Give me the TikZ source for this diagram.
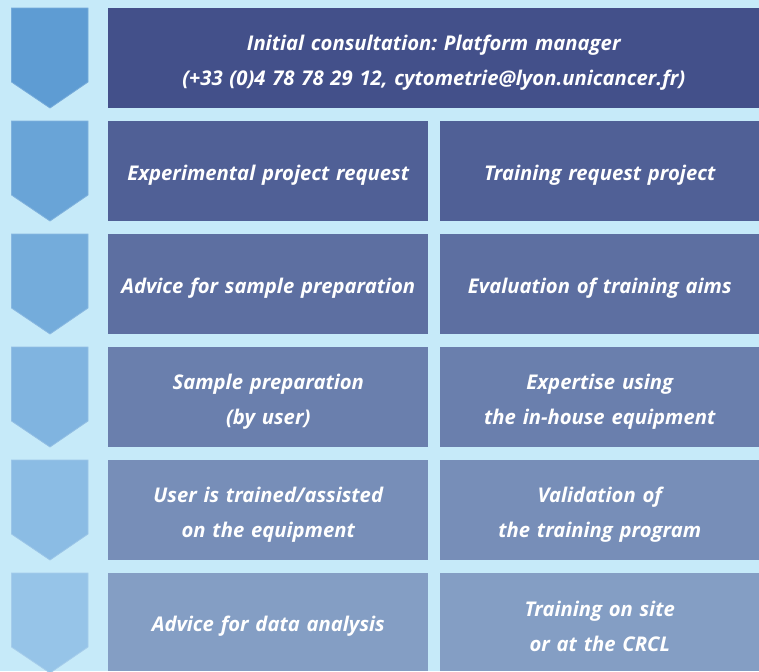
\documentclass[tikz,border=0pt]{standalone}
\usepackage{fontspec}
\setmainfont{Open Sans}
\frenchspacing
\usetikzlibrary{positioning}

\definecolor{bgblue}{HTML}{C6EAF9}
\definecolor{boxdark}{HTML}{43508A}
\definecolor{boxlight}{HTML}{849EC4}
\definecolor{chevdark}{HTML}{5E9CD3}
\definecolor{chevlight}{HTML}{96C4E8}

\tikzset{
  stepbox/.style={anchor=north west, inner sep=0pt, text=white, align=center,
    font=\fontsize{15.2}{26}\selectfont\bfseries\itshape, minimum height=75pt,
    execute at begin node={\rule{0pt}{18pt}}},
  halfbox/.style={stepbox, minimum width=240pt, text width=230pt},
}

\begin{document}
\begin{tikzpicture}[x=0.75pt,y=0.75pt,yscale=-1,xscale=1]
%set diagram size: 759 x 671
\clip (0,0) rectangle (759,671);
\fill[bgblue] (0,0) rectangle (759,671);

%Chevrons, one per row
\foreach \i in {0,...,5}{
  \pgfmathtruncatemacro{\pct}{\i*20}
  \pgfmathsetmacro{\top}{8+113*\i}
  \draw[draw=chevlight!\pct!chevdark!85!white, fill=chevlight!\pct!chevdark, line width=0.6pt]
    (11.5,\top) -- (88,\top) -- (88,\top+74) -- (50,\top+100) -- (11.5,\top+74) -- cycle ;
}

% Text Node
\node[stepbox, fill=boxdark, minimum width=488.25pt, text width=470pt] (consult) at (108,8)
  {Initial consultation: Platform manager\\(+33 (0)4 78 78 29 12, cytometrie@lyon.unicancer.fr)};

% Text Node
\node[halfbox, fill=boxlight!20!boxdark] (exprequest) at (108,121) {Experimental project request};
% Text Node
\node[halfbox, fill=boxlight!20!boxdark, minimum width=239.25pt] (trainrequest) at (440,121) {Training request project};

% Text Node
\node[halfbox, fill=boxlight!40!boxdark] (advsample) at (108,234) {Advice for sample preparation};
% Text Node
\node[halfbox, fill=boxlight!40!boxdark, minimum width=239.25pt] (evalaims) at (440,234) {Evaluation of training aims};

% Text Node
\node[halfbox, fill=boxlight!60!boxdark] (sampleprep) at (108,347) {Sample preparation\\(by user)};
% Text Node
\node[halfbox, fill=boxlight!60!boxdark, minimum width=239.25pt] (expertise) at (440,347) {Expertise using\\the in-house equipment};

% Text Node
\node[halfbox, fill=boxlight!80!boxdark] (usertrained) at (108,460) {User is trained/assisted\\on the equipment};
% Text Node
\node[halfbox, fill=boxlight!80!boxdark, minimum width=239.25pt] (validation) at (440,460) {Validation of\\the training program};

% Text Node
\node[halfbox, fill=boxlight, minimum height=73.5pt] (advdata) at (108,573) {Advice for data analysis};
% Text Node
\node[halfbox, fill=boxlight, minimum width=239.25pt, minimum height=73.5pt] (onsite) at (440,573) {Training on site\\or at the CRCL};

\end{tikzpicture}
\end{document}
